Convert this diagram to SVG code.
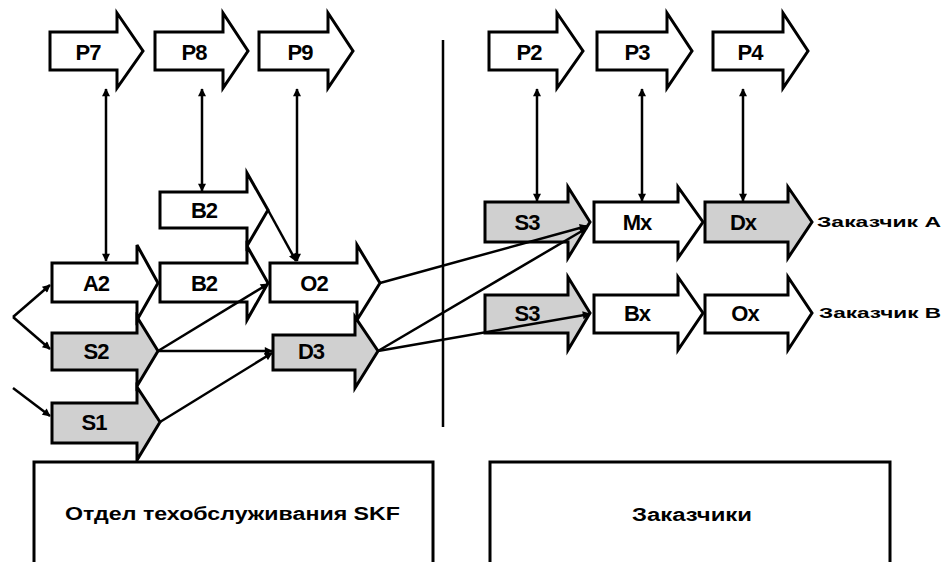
<svg xmlns="http://www.w3.org/2000/svg" width="943" height="562" viewBox="0 0 943 562">
<style>
.blk{fill:#fff;stroke:#000;stroke-width:3;stroke-linejoin:miter}
.gr{fill:#d0d0d0}
.lbl{font-family:"Liberation Sans",Arial,sans-serif;font-weight:bold;font-size:22px;fill:#000;text-anchor:middle;letter-spacing:-1px}
.side{font-family:"Liberation Sans",Arial,sans-serif;font-weight:bold;font-size:14px;fill:#000}
.box{fill:#fff;stroke:#000;stroke-width:3}
.con{stroke:#000;stroke-width:2.5;fill:none}
</style>
<defs>
<marker id="ah" viewBox="0 0 10 10" refX="9" refY="5" markerWidth="10" markerHeight="8" markerUnits="userSpaceOnUse" orient="auto-start-reverse">
<path d="M0,0 L10,5 L0,10 Z" fill="#000"/>
</marker>
</defs>
<rect width="943" height="562" fill="#fff"/>

<g id="P7"><polygon class="blk" points="50,32 117,32 117,13 143,51 117,88 117,70 50,70"/><text class="lbl" x="88" y="60">P7</text></g>
<g id="P8"><polygon class="blk" points="155,32 223,32 223,13 248,51 223,88 223,70 155,70"/><text class="lbl" x="194" y="60">P8</text></g>
<g id="P9"><polygon class="blk" points="259,32 328,32 328,13 353,51 328,88 328,70 259,70"/><text class="lbl" x="300" y="60">P9</text></g>
<g id="P2"><polygon class="blk" points="489,32 557,32 557,13 583,51 557,88 557,70 489,70"/><text class="lbl" x="529" y="60">P2</text></g>
<g id="P3"><polygon class="blk" points="597,32 667,32 667,13 692,51 667,88 667,70 597,70"/><text class="lbl" x="637" y="60">P3</text></g>
<g id="P4"><polygon class="blk" points="713,32 783,32 783,13 808,51 783,88 783,70 713,70"/><text class="lbl" x="750" y="60">P4</text></g>

<g id="B2top"><polygon class="blk" points="160,192 247,192 247,173 268,210 247,246 247,228 160,228"/><text class="lbl" x="204" y="218">B2</text></g>
<g id="A2"><polygon class="blk" points="52,263 137,263 137,245 158,283 137,320 137,302 52,302"/><text class="lbl" x="96" y="291">A2</text></g>
<g id="B2low"><polygon class="blk" points="160,263 247,263 247,246 268,283 247,320 247,302 160,302"/><text class="lbl" x="204" y="291">B2</text></g>
<g id="O2"><polygon class="blk" points="270,263 357,263 357,245 380,283 357,320 357,302 270,302"/><text class="lbl" x="314" y="291">O2</text></g>
<g id="S2"><polygon class="blk gr" points="52,333 137,333 137,317 158,351 137,386 137,370 52,370"/><text class="lbl" x="96" y="359">S2</text></g>
<g id="S1"><polygon class="blk gr" points="52,403 137,403 137,387 160,422 137,460 137,443 52,443"/><text class="lbl" x="94" y="430">S1</text></g>
<g id="D3"><polygon class="blk gr" points="273,335 355,335 355,317 378,351 355,388 355,370 273,370"/><text class="lbl" x="311" y="359">D3</text></g>

<g id="S3A"><polygon class="blk gr" points="485,202 568,202 568,187 590,222 568,258 568,242 485,242"/><text class="lbl" x="527" y="230">S3</text></g>
<g id="Mx"><polygon class="blk" points="594,202 678,202 678,187 703,222 678,258 678,242 594,242"/><text class="lbl" x="637" y="230">Mx</text></g>
<g id="Dx"><polygon class="blk gr" points="705,202 788,202 788,187 812,222 788,258 788,242 705,242"/><text class="lbl" x="743" y="230">Dx</text></g>
<text class="side" x="817" y="227" textLength="124" lengthAdjust="spacingAndGlyphs">Заказчик A</text>

<g id="S3B"><polygon class="blk gr" points="485,295 568,295 568,277 590,313 568,350 568,333 485,333"/><text class="lbl" x="527" y="321">S3</text></g>
<g id="Bx"><polygon class="blk" points="594,295 678,295 678,277 703,313 678,350 678,333 594,333"/><text class="lbl" x="637" y="321">Bx</text></g>
<g id="Ox"><polygon class="blk" points="705,295 788,295 788,277 812,313 788,350 788,333 705,333"/><text class="lbl" x="745" y="321">Ox</text></g>
<text class="side" x="819" y="318" textLength="122" lengthAdjust="spacingAndGlyphs">Заказчик B</text>

<g id="boxSKF"><rect class="box" x="34" y="462" width="399" height="120"/><text class="side" x="65" y="520" textLength="335" lengthAdjust="spacingAndGlyphs" style="font-size:18px">Отдел техобслуживания SKF</text></g>
<g id="boxCust"><rect class="box" x="490" y="462" width="400" height="120"/><text class="side" x="632" y="521" textLength="120" lengthAdjust="spacingAndGlyphs" style="font-size:18px">Заказчики</text></g>

<g id="connectors">
<line class="con" x1="443" y1="40" x2="443" y2="427"/>
<line class="con" x1="13" y1="317" x2="50" y2="285" marker-end="url(#ah)"/>
<line class="con" x1="13" y1="317" x2="50" y2="349" marker-end="url(#ah)"/>
<line class="con" x1="13" y1="388" x2="50" y2="416" marker-end="url(#ah)"/>
<line class="con" x1="106" y1="89" x2="106" y2="261" marker-start="url(#ah)" marker-end="url(#ah)"/>
<line class="con" x1="202" y1="89" x2="202" y2="191" marker-start="url(#ah)" marker-end="url(#ah)"/>
<line class="con" x1="297" y1="89" x2="297" y2="261" marker-start="url(#ah)" marker-end="url(#ah)"/>
<line class="con" x1="537" y1="89" x2="537" y2="201" marker-start="url(#ah)" marker-end="url(#ah)"/>
<line class="con" x1="642" y1="89" x2="642" y2="201" marker-start="url(#ah)" marker-end="url(#ah)"/>
<line class="con" x1="743" y1="89" x2="743" y2="201" marker-start="url(#ah)" marker-end="url(#ah)"/>
<line class="con" x1="268" y1="210" x2="296" y2="261" marker-end="url(#ah)"/>
<line class="con" x1="158" y1="351" x2="268" y2="284" marker-end="url(#ah)"/>
<line class="con" x1="158" y1="351" x2="272" y2="351" marker-end="url(#ah)"/>
<line class="con" x1="160" y1="422" x2="272" y2="353" marker-end="url(#ah)"/>
<line class="con" x1="380" y1="283" x2="587" y2="226" marker-end="url(#ah)"/>
<line class="con" x1="378" y1="351" x2="587" y2="228" marker-end="url(#ah)"/>
<line class="con" x1="378" y1="351" x2="590" y2="314" marker-end="url(#ah)"/>
</g>
</svg>
